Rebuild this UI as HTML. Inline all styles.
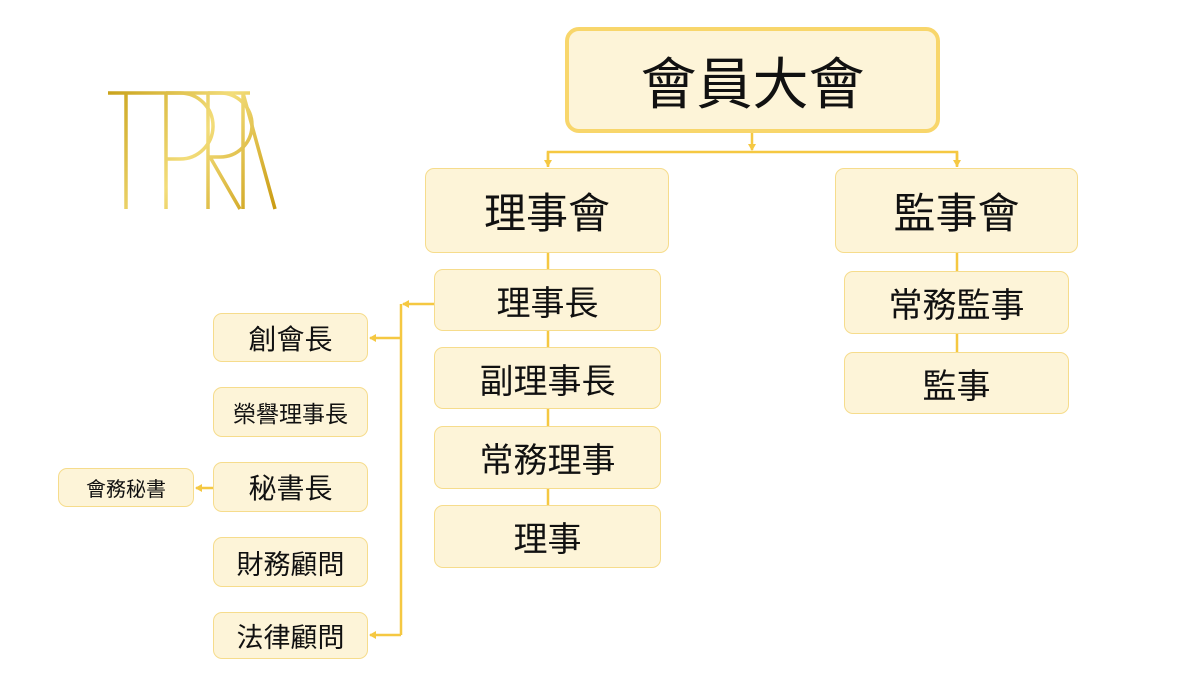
<!DOCTYPE html>
<html><head><meta charset="utf-8"><style>
body{margin:0;width:1200px;height:675px;background:#fff;position:relative;overflow:hidden;font-family:"Liberation Sans","Noto Sans CJK TC",sans-serif;}
.b{position:absolute;box-sizing:border-box;background:#fdf4d8;border:1.5px solid #f6dc8c;border-radius:9px;display:flex;align-items:center;justify-content:center;color:#111;white-space:nowrap;}
svg{position:absolute;left:0;top:0}
</style></head><body>
<svg width="1200" height="675">
<defs>
<linearGradient id="g" gradientUnits="userSpaceOnUse" x1="108" y1="92" x2="276" y2="210"><stop offset="0" stop-color="#c9a21a"/><stop offset="0.5" stop-color="#f3dd7a"/><stop offset="1" stop-color="#c99a10"/></linearGradient>
<marker id="a" markerWidth="8" markerHeight="8" refX="6" refY="4" orient="auto" markerUnits="userSpaceOnUse"><path d="M0,0 L7,4 L0,8 Z" fill="#f5c842"/></marker>
</defs>
<g fill="none" stroke="url(#g)" stroke-width="3.5">
<path d="M108,93 H250"/>
<path d="M126,93 V209"/>
<path d="M166,93 V209"/>
<path d="M166,93 H180 A33,33 0 0 1 180,159 H166"/>
<path d="M208,93 V209"/>
<path d="M208,93 H220 A32,32 0 0 1 220,157 H210 L240,209"/>
<path d="M243,93 V209"/>
<path d="M243,93 L275,209"/>
</g>
<g stroke="#f5c842" stroke-width="2.5" fill="none">
<path d="M752,133 V150" marker-end="url(#a)"/>
<path d="M548,167 V152 H957 V167"/>
<path d="M548,152 V166" marker-end="url(#a)"/>
<path d="M957,152 V166" marker-end="url(#a)"/>
<path d="M548,253 V505"/>
<path d="M957,253 V352"/>
<path d="M434,304 H403" marker-end="url(#a)"/>
<path d="M401,304 V635"/>
<path d="M401,338 H370" marker-end="url(#a)"/>
<path d="M401,635 H370" marker-end="url(#a)"/>
<path d="M213,488 H196" marker-end="url(#a)"/>
</g>
</svg>
<div class="b" style="left:565px;top:27px;width:375px;height:106px;border:4px solid #f8d66b;border-radius:14px;font-size:56px;">會員大會</div>
<div class="b" style="left:425px;top:168px;width:244px;height:85px;font-size:42px;">理事會</div>
<div class="b" style="left:835px;top:168px;width:243px;height:85px;font-size:42px;">監事會</div>
<div class="b" style="left:434px;top:269px;width:227px;height:62px;font-size:34px;">理事長</div>
<div class="b" style="left:434px;top:347px;width:227px;height:62px;font-size:34px;">副理事長</div>
<div class="b" style="left:434px;top:426px;width:227px;height:63px;font-size:34px;">常務理事</div>
<div class="b" style="left:434px;top:505px;width:227px;height:63px;font-size:34px;">理事</div>
<div class="b" style="left:844px;top:271px;width:225px;height:63px;font-size:34px;">常務監事</div>
<div class="b" style="left:844px;top:352px;width:225px;height:62px;font-size:34px;">監事</div>
<div class="b" style="left:213px;top:313px;width:155px;height:49px;font-size:28px;">創會長</div>
<div class="b" style="left:213px;top:387px;width:155px;height:50px;font-size:23px;">榮譽理事長</div>
<div class="b" style="left:213px;top:462px;width:155px;height:50px;font-size:28px;">秘書長</div>
<div class="b" style="left:213px;top:537px;width:155px;height:50px;font-size:27px;">財務顧問</div>
<div class="b" style="left:213px;top:612px;width:155px;height:47px;font-size:27px;">法律顧問</div>
<div class="b" style="left:58px;top:468px;width:136px;height:39px;font-size:20px;">會務秘書</div>
</body></html>
